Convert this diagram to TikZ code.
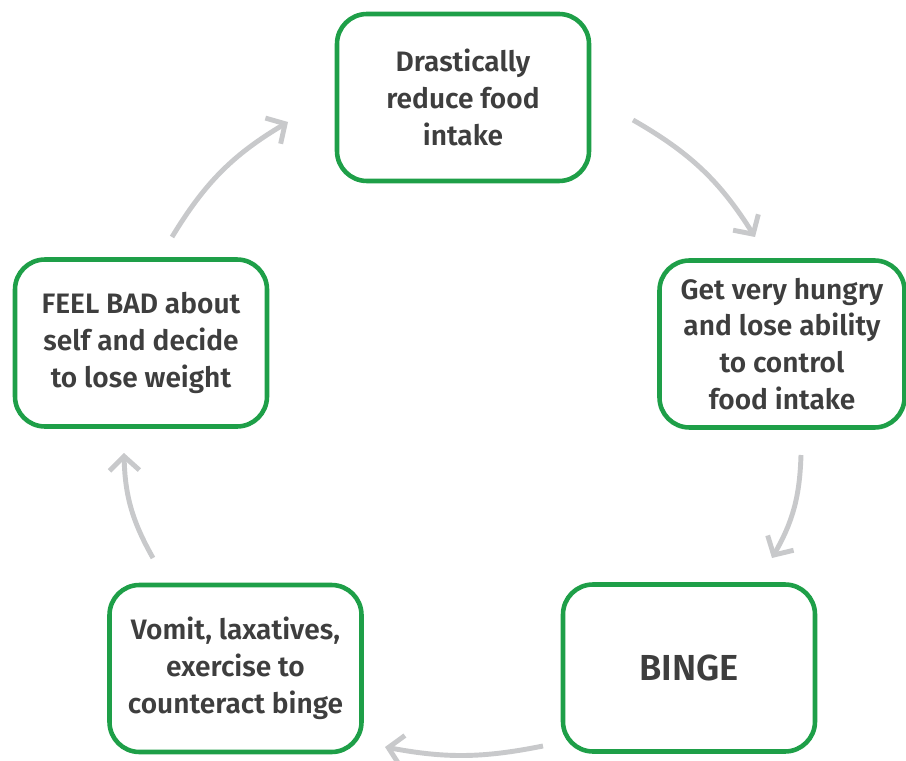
\documentclass[tikz,border=0pt]{standalone}
\usepackage{fontspec}
\setmainfont{Fira Sans}[BoldFont={Fira Sans SemiBold}]
\usetikzlibrary{arrows.meta}
\definecolor{boxgreen}{HTML}{1E9F48}
\definecolor{arrowgray}{HTML}{C8C9CB}
\definecolor{textgray}{HTML}{3E3E3E}

\begin{document}
\begin{tikzpicture}[
    stagebox/.style={draw=boxgreen, line width=2.6pt, rounded corners=0.6cm,
      minimum width=5.04cm, minimum height=3.34cm, align=center,
      text=textgray, font=\fontsize{16}{21}\selectfont\bfseries},
    cyclearrow/.style={draw=arrowgray, line width=2.8pt,
      -{Straight Barb[length=8pt,width=17pt,line width=2.8pt]}}
  ]
  \useasboundingbox (0,0) rectangle (18.12,15.2);
  % Stages of the cycle
  \node[stagebox] (reduce) at (9.26,13.25) {Drastically\\reduce food\\intake};
  \node[stagebox, minimum width=4.9cm] (hungry) at (15.64,8.32)
    {Get very hungry\\and lose ability\\to control\\food intake};
  \node[stagebox, font=\fontsize{20.6}{24}\selectfont\bfseries] (binge) at (13.78,1.84) {BINGE};
  \node[stagebox] (purge) at (4.71,1.83) {Vomit, laxatives,\\exercise to\\counteract binge};
  \node[stagebox] (feelbad) at (2.82,8.34) {FEEL BAD about\\self and decide\\to lose weight};
  % Arrow ends between the boxes
  \coordinate (r2h-s) at (12.66,12.80);
  \coordinate (r2h-e) at (15.10,10.46);
  \coordinate (h2b-s) at (16.02,6.10);
  \coordinate (h2b-e) at (15.44,4.04);
  \coordinate (b2p-s) at (10.86,0.28);
  \coordinate (b2p-e) at (7.70,0.26);
  \coordinate (p2f-s) at (3.06,4.04);
  \coordinate (p2f-e) at (2.48,6.14);
  \coordinate (f2r-s) at (3.44,10.46);
  \coordinate (f2r-e) at (5.76,12.76);
  % Arrows
  \draw[cyclearrow] (r2h-s) to[bend left=14] (r2h-e);
  \draw[cyclearrow] (h2b-s) to[bend left=14] (h2b-e);
  \draw[cyclearrow] (b2p-s) to[bend left=11] (b2p-e);
  \draw[cyclearrow] (p2f-s) to[bend left=14] (p2f-e);
  \draw[cyclearrow] (f2r-s) to[bend left=14] (f2r-e);
\end{tikzpicture}
\end{document}
